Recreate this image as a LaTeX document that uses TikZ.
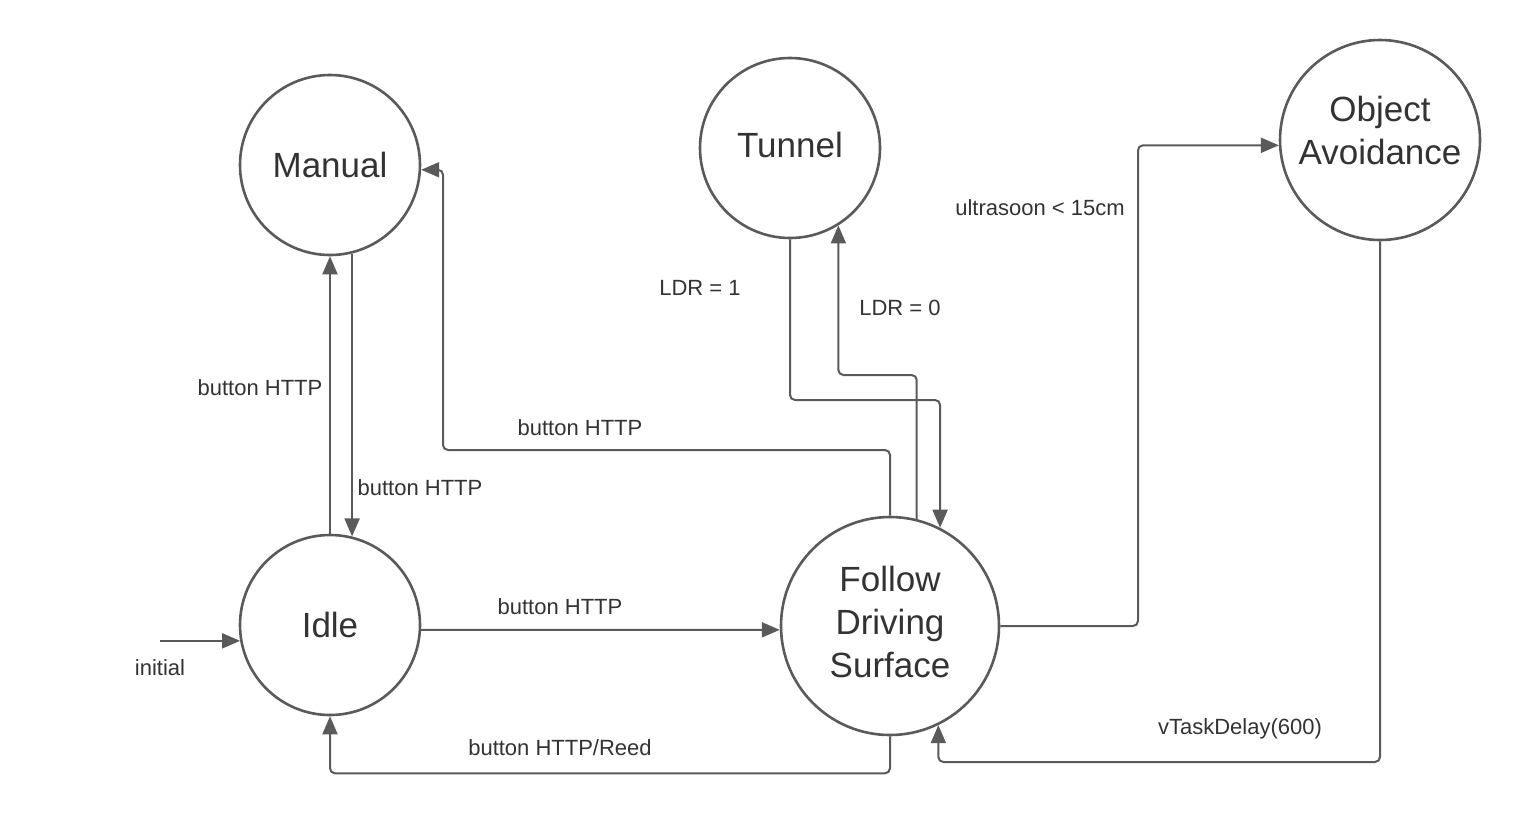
\documentclass[tikz,border=0pt]{standalone}
\usepackage{fontspec}
\setmainfont{Liberation Sans}
\usetikzlibrary{arrows.meta}
\definecolor{linegray}{HTML}{5A5A5A}
\definecolor{textgray}{HTML}{333333}
\begin{document}
\begin{tikzpicture}[x=1pt,y=-1pt,
  state/.style={circle,draw=linegray,line width=2.6pt,inner sep=0pt},
  statetext/.style={align=center,text=textgray,inner sep=0pt,
    font=\fontsize{35}{43}\selectfont},
  lbl/.style={text=textgray,font=\fontsize{22}{26}\selectfont,inner sep=0pt},
  arr/.style={draw=linegray,line width=2pt,rounded corners=5pt,
    -{Triangle[length=18pt,width=15pt]}}]
\useasboundingbox[fill=white] (0,0) rectangle (1520,820);

% states
\node[state,minimum size=180pt] (m) at (330,165) {};
\node[state,minimum size=180pt] (t) at (790,148) {};
\node[state,minimum size=200pt] (o) at (1380,140) {};
\node[state,minimum size=180pt] (i) at (330,625) {};
\node[state,minimum size=218pt] (f) at (890,626) {};

\node[statetext] (mt) at (m.center) {Manual};
\node[statetext] (tt) at ([yshift=3pt]t.center) {Tunnel};
\node[statetext] (ot) at ([yshift=10pt]o.center) {Object\\Avoidance};
\node[statetext] (it) at (i.center) {Idle};
\node[statetext] (ft) at ([yshift=4pt]f.center) {Follow\\Driving\\Surface};

% helper points for the routed connectors
\coordinate (init) at (160,0);
\coordinate (c6) at (443,450);
\coordinate (c7) at (0,375);
\coordinate (c8) at (0,400);
\coordinate (c9) at (1138,0);
\coordinate (c10) at (0,762);

% transitions
\draw[arr] (i.190 -| init) -- (i.190);
\draw[arr] (i.north) -- (m.south);
\draw[arr] (m.-76) -- (i.76);
\draw[arr] (i.-3) -- (f.182);
\draw[arr] (f.south) -- ++(0,37) -| (i.south);
\draw[arr] (f.north) |- (c6) |- (m.-3);
\draw[arr] (f.76) |- (t.-58 |- c7) -- (t.-58);
\draw[arr] (t.south) |- (f.63 |- c8) -- (f.63);
\draw[arr] (f.0) -| (c9 |- o.183) -- (o.183);
\draw[arr] (o.south) |- (f.-64 |- c10) -- (f.-64);

% transition labels
\node[lbl] (l1) at (160,668) {initial};
\node[lbl] (l2) at (260,388) {button HTTP};
\node[lbl] (l3) at (420,488) {button HTTP};
\node[lbl] (l4) at (580,428) {button HTTP};
\node[lbl] (l5) at (560,607) {button HTTP};
\node[lbl] (l6) at (560,748) {button HTTP/Reed};
\node[lbl] (l7) at (700,288) {LDR = 1};
\node[lbl] (l8) at (900,308) {LDR = 0};
\node[lbl] (l9) at (1040,208) {ultrasoon < 15cm};
\node[lbl] (l10) at (1240,729) {vTaskDelay(600)};
\end{tikzpicture}
\end{document}
